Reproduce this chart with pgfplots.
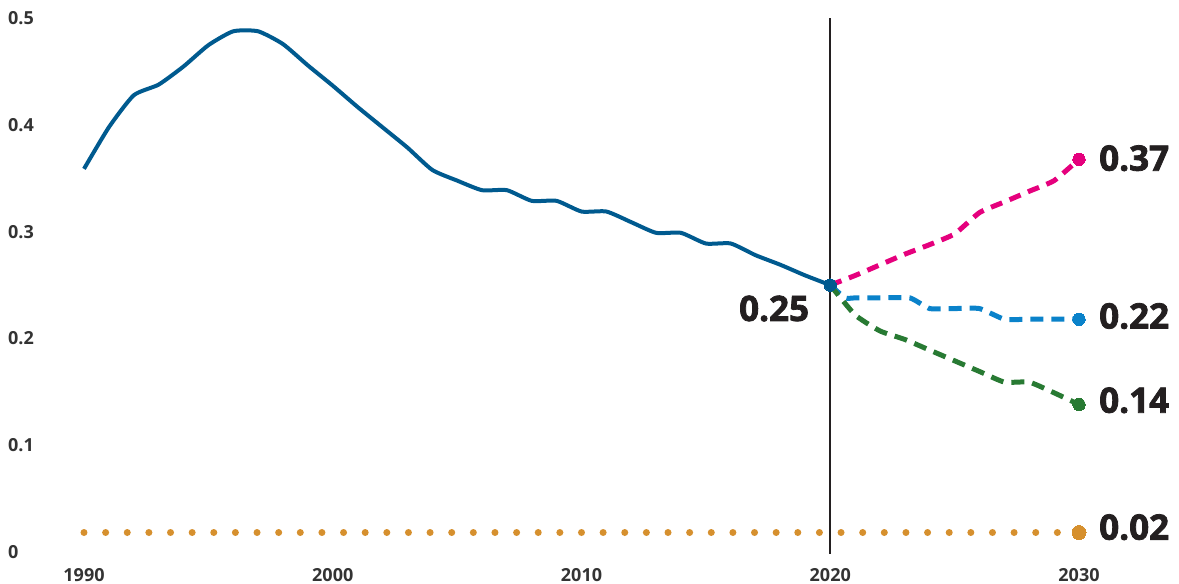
\documentclass[border=0pt]{standalone}
\usepackage{fontspec}
\setmainfont{Open Sans}
\newfontfamily\bigf{Open Sans}[UprightFont=* Bold, FakeBold=2.2]
\usepackage{pgfplots}
\pgfplotsset{compat=1.18}
\definecolor{mainblue}{HTML}{005A8F}
\definecolor{pinkc}{HTML}{E5007D}
\definecolor{bluec}{HTML}{0A82CA}
\definecolor{greenc}{HTML}{287A33}
\definecolor{orangec}{HTML}{D6902E}
\definecolor{txt}{HTML}{231F20}
\definecolor{ticktxt}{HTML}{333333}
\begin{document}
\begin{tikzpicture}
\begin{axis}[name=ax,
  scale only axis, width=995bp, height=533.2bp,
  xmin=1990, xmax=2030, ymin=0, ymax=0.5,
  axis line style={draw=none}, clip=false,
  xtick={1990,2000,2010,2020,2030},
  ytick={0,0.1,0.2,0.3,0.4,0.5},
  yticklabels={0,0.1,0.2,0.3,0.4,0.5},
  xticklabels={1990,2000,2010,2020,2030},
  major tick length=0pt, tick style={draw=none},
  yticklabel style={anchor=west, inner sep=0pt, xshift=-76bp, font=\fontsize{18bp}{20bp}\selectfont\bfseries, text=ticktxt},
  xticklabel style={anchor=base, inner sep=0pt, yshift=-29.3bp, font=\fontsize{18bp}{20bp}\selectfont\bfseries, text=ticktxt},
]
% vertical line at 2020
\draw[txt, line width=2.2bp] (axis cs:2020,0.5) -- (axis cs:2020,-0.002);
% orange dotted baseline
\addplot[orangec, line width=7bp, line cap=round, dash pattern=on 0bp off 21.63bp, mark=none] coordinates {(1990,0.018) (2030,0.018)};
% main historical line
\addplot[mainblue, line width=4bp, smooth, tension=0.35, mark=none] coordinates {
(1990,0.359) (1991,0.398) (1992,0.428) (1993,0.438) (1994,0.455) (1995,0.475) (1996,0.488) (1997,0.488) (1998,0.476) (1999,0.456) (2000,0.437) (2001,0.417) (2002,0.398) (2003,0.379) (2004,0.358) (2005,0.348) (2006,0.339) (2007,0.339) (2008,0.329) (2009,0.329) (2010,0.319) (2011,0.319) (2012,0.309) (2013,0.299) (2014,0.299) (2015,0.289) (2016,0.289) (2017,0.278) (2018,0.269) (2019,0.259) (2020,0.25)};
% projections
\addplot[pinkc, line width=5bp, dash pattern=on 12bp off 8bp, smooth, tension=0.3, mark=none] coordinates {
(2020,0.25) (2021,0.259) (2022,0.269) (2023,0.279) (2024,0.288) (2025,0.298) (2026,0.318) (2027,0.328) (2028,0.338) (2029,0.348) (2030,0.368)};
\addplot[bluec, line width=5bp, dash pattern=on 13bp off 8bp, smooth, tension=0.3, mark=none] coordinates {
(2020,0.25) (2020.6,0.238) (2021,0.238) (2022,0.238) (2023.2,0.238) (2024,0.228) (2025,0.228) (2026,0.228) (2027,0.218) (2028,0.218) (2029,0.218) (2030,0.218)};
\addplot[greenc, line width=5bp, dash pattern=on 13bp off 8bp, smooth, tension=0.3, mark=none] coordinates {
(2020,0.25) (2021,0.222) (2022,0.207) (2023,0.199) (2024,0.189) (2025,0.179) (2026,0.169) (2027,0.159) (2028,0.159) (2029,0.149) (2030,0.138)};
% end dots
\addplot[orangec, only marks, mark=*, mark size=7bp, mark options={solid, line width=0pt, fill=orangec, draw=orangec}] coordinates {(2030,0.018)};
\addplot[pinkc, only marks, mark=*, mark size=6.2bp, mark options={solid, line width=0pt, fill=pinkc, draw=pinkc}] coordinates {(2030,0.368)};
\addplot[bluec, only marks, mark=*, mark size=6.2bp, mark options={solid, line width=0pt, fill=bluec, draw=bluec}] coordinates {(2030,0.218)};
\addplot[greenc, only marks, mark=*, mark size=6.2bp, mark options={solid, line width=0pt, fill=greenc, draw=greenc}] coordinates {(2030,0.138)};
\addplot[mainblue, only marks, mark=*, mark size=6.2bp, mark options={solid, line width=0pt, fill=mainblue, draw=mainblue}] coordinates {(2020,0.25)};
% value labels
\node[anchor=west, inner sep=0pt, xshift=20bp, text=txt, font=\bigf\fontsize{35bp}{37bp}\selectfont] at (axis cs:2030,0.369) {0.37};
\node[anchor=west, inner sep=0pt, xshift=20bp, text=txt, font=\bigf\fontsize{35bp}{37bp}\selectfont] at (axis cs:2030,0.221) {0.22};
\node[anchor=west, inner sep=0pt, xshift=20bp, text=txt, font=\bigf\fontsize{35bp}{37bp}\selectfont] at (axis cs:2030,0.142) {0.14};
\node[anchor=west, inner sep=0pt, xshift=20bp, text=txt, font=\bigf\fontsize{35bp}{37bp}\selectfont] at (axis cs:2030,0.023) {0.02};
\node[anchor=east, inner sep=0pt, xshift=-21bp, yshift=-23.4bp, text=txt, font=\bigf\fontsize{35bp}{37bp}\selectfont] at (axis cs:2020,0.25) {0.25};
\end{axis}
\pgfresetboundingbox
\path[use as bounding box] ([shift={(-84bp,-32.3bp)}]ax.south west) rectangle ([shift={(1095bp,551.7bp)}]ax.south west);
\end{tikzpicture}
\end{document}
